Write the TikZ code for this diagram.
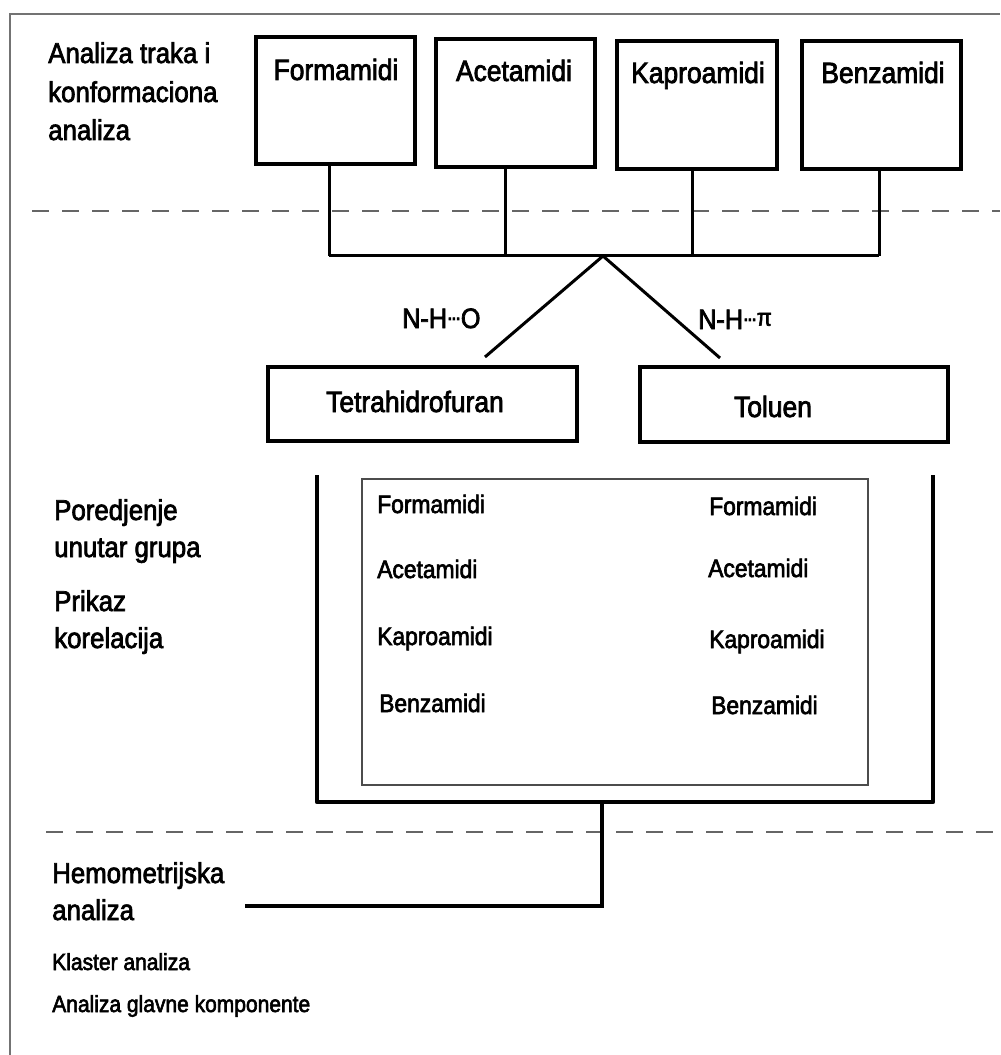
\documentclass[tikz,border=0pt]{standalone}
\usepackage{fontspec}
\setmainfont{Liberation Sans}[FakeStretch=0.9,FakeBold=2.5]
\usepackage{graphicx}
\newcommand\hbdots{\kern0.5pt\raisebox{6pt}{\fontsize{17}{17}\selectfont\kern-0.5pt.\kern-1.2pt.\kern-1.2pt.\kern-0.5pt}\kern0.5pt}
\begin{document}
\begin{tikzpicture}[x=0.75pt,y=-0.75pt,
  box/.style={draw,line width=2.4pt,inner sep=0,outer sep=0},
  conn/.style={line width=2.25pt},
  brk/.style={line width=3.4pt,line join=round},
  sepline/.style={draw=black!60,line width=1.1pt,dash pattern=on 12.75pt off 9.75pt},
  frame/.style={draw=black!55,line width=1.1pt},
  big/.style={inner sep=0,anchor=base west,font=\fontsize{21.5}{26}\selectfont},
  lbl/.style={inner sep=0,anchor=base,font=\fontsize{22}{26}\selectfont},
  lst/.style={inner sep=0,anchor=base west,font=\fontsize{19}{22}\selectfont},
  sml/.style={inner sep=0,anchor=base west,font=\fontsize{17.5}{21}\selectfont},
  bond/.style={inner sep=0,anchor=base west,font=\fontsize{21}{25}\selectfont}]
\useasboundingbox (0,0) rectangle (1000,1055);
% frame
\draw[frame] (10,1055) -- (10,14) -- (1000,14);
% dashed separators
\draw[sepline] (32,211) -- (1000,211);
\draw[sepline] (46,832) -- (1000,832);
% top boxes
\node[box,minimum width=119.25pt,minimum height=95.25pt] (F) at (335.5,100.5) {};
\node[box,minimum width=119.25pt,minimum height=96pt] (A) at (515.5,103) {};
\node[box,minimum width=120pt,minimum height=96pt] (K) at (697,105) {};
\node[box,minimum width=119.25pt,minimum height=96pt] (B) at (881.5,105) {};
\node[lbl] (tF) at (336,80) {Formamidi};
\node[lbl] (tA) at (514,81) {Acetamidi};
\node[lbl] (tK) at (698,83) {Kaproamidi};
\node[lbl] (tB) at (883,83) {Benzamidi};
% bus
\coordinate (j1) at (329,256);
\coordinate (j2) at (505,256);
\coordinate (j3) at (692,256);
\coordinate (j4) at (879,256);
\coordinate (apex) at (603,256);
\draw[conn] (j1 |- F.south) -- (j1);
\draw[conn] (j2 |- A.south) -- (j2);
\draw[conn] (j3 |- K.south) -- (j3);
\draw[conn] (j4 |- B.south) -- (j4);
\draw[conn] (j1) -- (j4);
% branches
\coordinate (bl) at (485,357);
\coordinate (br) at (720,358);
\draw[conn] (bl) -- (apex) -- (br);
\node[bond] (nho) at (402,328) {N-H\hbdots O};
\node[bond] (nhp) at (698,329) {N-H\hbdots{\fontsize{18}{18}\selectfont\raisebox{2.5pt}{π}}};
% solvent boxes
\node[box,minimum width=231.75pt,minimum height=55.5pt] (T) at (422.5,404) {};
\node[box,minimum width=231pt,minimum height=56.25pt] (Tol) at (794,404.5) {};
\node[lbl] (tT) at (415,412) {Tetrahidrofuran};
\node[lbl] (tTol) at (773,417) {Toluen};
% bracket and inner box
\draw[brk] (317,475) -- (317,802) -- (933,802) -- (933,475);
\node[draw=black!70,line width=0.9pt,inner sep=0,minimum width=379.5pt,minimum height=229.5pt] (inner) at (615,632) {};
\node[lst] (l1) at (377,513) {Formamidi};
\node[lst] (l2) at (377,578) {Acetamidi};
\node[lst] (l3) at (377,645) {Kaproamidi};
\node[lst] (l4) at (379,712) {Benzamidi};
\node[lst] (r1) at (709,515) {Formamidi};
\node[lst] (r2) at (708,577) {Acetamidi};
\node[lst] (r3) at (709,648) {Kaproamidi};
\node[lst] (r4) at (711,714) {Benzamidi};
% lower connector
\coordinate (b1) at (602,802);
\coordinate (b2) at (602,906);
\coordinate (b3) at (245,906);
\draw[conn,line width=3pt] (b1) -- (b2) -- (b3);
% left labels
\node[big] (a1) at (48,63) {Analiza traka i};
\node[big] (a2) at (48,102) {konformaciona};
\node[big] (a3) at (48,140) {analiza};
\node[big] (p1) at (54,520) {Poredjenje};
\node[big] (p2) at (54,557) {unutar grupa};
\node[big] (p3) at (54,611) {Prikaz};
\node[big] (p4) at (54,648) {korelacija};
\node[big] (h1) at (52,883) {Hemometrijska};
\node[big] (h2) at (52,920) {analiza};
\node[sml] (k1) at (52,970) {Klaster analiza};
\node[sml] (k2) at (52,1012) {Analiza glavne komponente};
\end{tikzpicture}
\end{document}
